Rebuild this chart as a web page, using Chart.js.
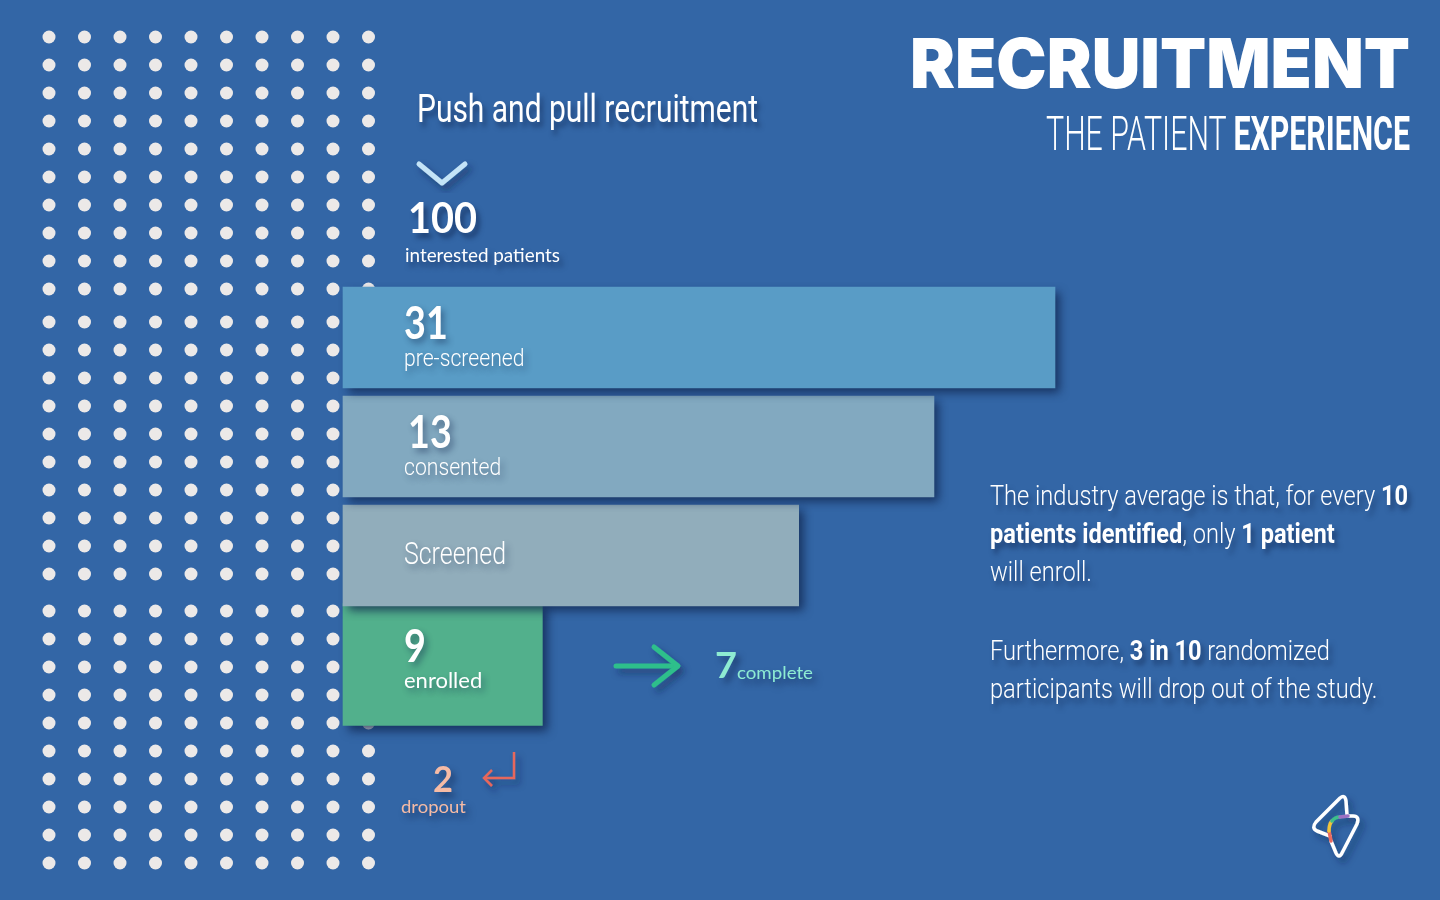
<!DOCTYPE html>
<html>
<head>
<meta charset="utf-8">
<script src="https://cdn.jsdelivr.net/npm/chart.js@4.4.0/dist/chart.umd.min.js"></script>
<style>
html, body { margin: 0; padding: 0; background: #3366a6; }
#wrap { position: relative; width: 1440px; height: 900px; overflow: hidden; background: #3366a6; }
#funnel { position: absolute; left: 0; top: 0; }
.t { position: absolute; left: 0; top: 0; color: #fff; white-space: nowrap; line-height: 1; text-shadow: 4px 5px 6px rgba(15, 35, 75, 0.55); }
.narrow { font-family: Roboto, "Noto Sans", sans-serif; }
.geo { font-family: Lato, "Noto Sans", sans-serif; }
.narrow b { font-weight: 700; }
#title { font-family: Inter, Lato, sans-serif; font-weight: 900; font-size: 69px; text-shadow: none; }
#subtitle { font-size: 48px; font-weight: 300; text-shadow: none; }
#push { font-size: 39px; }
#hundred { font-family: Lato, sans-serif; font-weight: 700; font-size: 42px; }
#interested { font-size: 20px; }
.para { font-size: 28px; font-weight: 300; }
#seven { font-family: Lato, sans-serif; font-weight: 700; font-size: 36px; color: #8eecd2; }
#complete { font-size: 18px; color: #8eecd2; }
#two { font-family: Lato, sans-serif; font-weight: 700; font-size: 36px; color: #f6bba5; }
#dropout { font-size: 18px; color: #f6bba5; }
svg.deco { position: absolute; left: 0; top: 0; overflow: visible; }
</style>
</head>
<body>
<div id="wrap">
  <canvas id="funnel" width="1440" height="900"></canvas>

  <div class="t" id="title">RECRUITMENT</div>
  <div class="t narrow" id="subtitle">THE PATIENT <b>EXPERIENCE</b></div>
  <div class="t narrow" id="push">Push and pull recruitment</div>
  <div class="t" id="hundred">100</div>
  <div class="t geo" id="interested">interested patients</div>
  <div class="t narrow para" id="p1">The industry average is that, for every <b>10</b></div>
  <div class="t narrow para" id="p2"><b>patients identified</b>, only <b>1 patient</b></div>
  <div class="t narrow para" id="p3">will enroll.</div>
  <div class="t narrow para" id="p4">Furthermore, <b>3 in 10</b> randomized</div>
  <div class="t narrow para" id="p5">participants will drop out of the study.</div>
  <div class="t" id="seven">7</div>
  <div class="t geo" id="complete">complete</div>
  <div class="t" id="two">2</div>
  <div class="t geo" id="dropout">dropout</div>

  <svg class="deco" width="1440" height="900">
    <defs>
      <filter id="sh" x="-50%" y="-50%" width="200%" height="200%">
        <feDropShadow dx="4" dy="5" stdDeviation="3" flood-color="#0f234b" flood-opacity="0.5"/>
      </filter>
    </defs>
    <polyline points="419,164 442,183 465,164" fill="none" stroke="#c4e4f7" stroke-width="5" stroke-linecap="round" stroke-linejoin="round" filter="url(#sh)"/>
    <g fill="none" stroke="#2dbf8b" stroke-width="5" stroke-linecap="round" stroke-linejoin="round" filter="url(#sh)">
      <line x1="616" y1="666" x2="677" y2="666"/>
      <polyline points="654,647 678,666 654,685"/>
    </g>
    <g fill="none" stroke="#e6675c" stroke-width="2.5" filter="url(#sh)">
      <polyline points="514,752 514,778 484,778"/>
      <polyline points="492,770 484,778 492,786"/>
    </g>
    <g fill="none" stroke-width="3.5" stroke-linecap="round" stroke-linejoin="round" filter="url(#sh)">
      <path d="M1347,815 L1346,801 Q1345,794 1340,798 L1316,822 Q1311,828 1317,831 L1330,836" stroke="#fff"/>
      <path d="M1331,841 L1336,853 Q1339,859 1342,853 L1357,824 Q1360,816 1353,816 L1347,816" stroke="#fff"/>
      <path d="M1331,841 L1329,831" stroke="#ea6a5e"/>
      <path d="M1329,831 Q1329,824 1332,821" stroke="#f1c43a"/>
      <path d="M1332,821 Q1335,817 1340,817" stroke="#3cbf8a"/>
      <path d="M1340,817 L1348,816" stroke="#9b6fc4"/>
    </g>
  </svg>
</div>

<script>
// funnel stages, top to bottom
var stages = ['pre-screened', 'consented', 'Screened', 'enrolled'];
var stageCounts = [31, 13, null, 9];
// bar lengths as drawn, relative to the widest bar (= 100)
var barLengths = [100, 83, 64, 28];

var barColors = ['#599cc6', '#82a9c0', '#91adbb', '#52b08c'];

var datasets = stages.map(function(name, i) {
  return {
    label: name,
    data: stages.map(function(s, j) { return j === i ? barLengths[i] : null; }),
    backgroundColor: barColors[i],
    borderWidth: 0,
    barThickness: i === 3 ? 122 : 101,
    grouped: false,
    clip: false
  };
});

// draw text squeezed horizontally (stand-in for a condensed face)
function squeezed(ctx, text, x, y, sx) {
  ctx.save();
  ctx.translate(x, y);
  ctx.scale(sx, 1);
  ctx.fillText(text, 0, 0);
  ctx.restore();
}

var funnelPlugin = {
  id: 'funnelDeco',
  beforeDraw: function(chart) {
    var ctx = chart.ctx;
    ctx.save();
    ctx.fillStyle = '#ece9e8';
    [37, 322, 611].forEach(function(top) {
      for (var r = 0; r < 10; r++) {
        for (var c = 0; c < 10; c++) {
          ctx.beginPath();
          ctx.arc(49 + c * 35.5, top + r * 28, 6.5, 0, Math.PI * 2);
          ctx.fill();
        }
      }
    });
    ctx.restore();
  },
  beforeDatasetsDraw: function(chart) {
    var ctx = chart.ctx;
    ctx.save();
    ctx.shadowColor = 'rgba(15, 35, 75, 0.75)';
    ctx.shadowBlur = 9;
    ctx.shadowOffsetX = 5;
    ctx.shadowOffsetY = 5;
  },
  afterDatasetsDraw: function(chart) {
    var ctx = chart.ctx;
    ctx.restore();
    ctx.save();
    ctx.fillStyle = '#fff';
    ctx.textAlign = 'left';
    ctx.textBaseline = 'alphabetic';
    ctx.shadowColor = 'rgba(15, 35, 75, 0.45)';
    ctx.shadowBlur = 6;
    ctx.shadowOffsetX = 3;
    ctx.shadowOffsetY = 4;
    stages.forEach(function(name, i) {
      var bar = chart.getDatasetMeta(i).data[i];
      var top = bar.y - bar.height / 2;
      var x = 404;
      if (stageCounts[i] === null) {
        ctx.font = '300 32px Roboto, sans-serif';
        squeezed(ctx, name, x, top + 59, 102 / ctx.measureText(name).width);
        return;
      }
      var num = String(stageCounts[i]);
      ctx.font = 'bold 46px Lato, sans-serif';
      squeezed(ctx, num, num.charAt(0) === '1' ? x + 4 : x, top + (i === 3 ? 58 : 52), 0.82);
      if (i === 3) {
        ctx.font = '22px Lato, sans-serif';
        ctx.fillText(name, x, top + 84);
      } else {
        ctx.font = '300 23px Roboto, sans-serif';
        squeezed(ctx, name, x, top + 79, 0.92);
      }
    });
    ctx.restore();
  }
};

new Chart(document.getElementById('funnel').getContext('2d'), {
  type: 'bar',
  data: { labels: stages, datasets: datasets },
  options: {
    indexAxis: 'y',
    responsive: false,
    animation: false,
    events: [],
    layout: { padding: { left: 343, right: 385, top: 283, bottom: 181 } },
    scales: {
      x: { display: false, min: 0, max: 100 },
      y: { display: false }
    },
    plugins: {
      legend: { display: false },
      tooltip: { enabled: false }
    }
  },
  plugins: [funnelPlugin]
});

// position html text by its baseline, optionally squeezing it to a width
function place(id, x, base, opts) {
  opts = opts || {};
  var el = document.getElementById(id);
  el.style.transform = 'none';
  var probe = document.createElement('span');
  probe.style.cssText = 'display:inline-block;width:0;height:0;vertical-align:baseline';
  el.appendChild(probe);
  var r = el.getBoundingClientRect();
  var off = probe.getBoundingClientRect().top - r.top;
  el.removeChild(probe);
  var sx = opts.scale || (opts.width ? opts.width / r.width : 1);
  var right = opts.align === 'right';
  el.style.transformOrigin = right ? 'right top' : 'left top';
  el.style.transform = 'scaleX(' + sx + ')';
  el.style.left = (right ? x - r.width : x) + 'px';
  el.style.top = (base - off) + 'px';
  return sx;
}

function layoutText() {
  place('title', 1410, 88, { width: 500, align: 'right' });
  place('subtitle', 1410, 150, { width: 364, align: 'right' });
  place('push', 417, 122, { width: 341 });
  place('hundred', 408, 233, { width: 69 });
  place('interested', 405, 262, { width: 155 });
  var s = place('p1', 990, 505, { width: 418 });
  place('p2', 990, 543, { scale: s });
  place('p3', 990, 581, { scale: s });
  place('p4', 990, 660, { scale: s });
  place('p5', 990, 698, { scale: s });
  place('seven', 715, 678, { width: 22 });
  place('complete', 737, 679, { width: 76 });
  place('two', 433, 792, { width: 20 });
  place('dropout', 401, 813, { width: 65 });
}
layoutText();
if (document.fonts && document.fonts.ready) { document.fonts.ready.then(layoutText); }
</script>
</body>
</html>
